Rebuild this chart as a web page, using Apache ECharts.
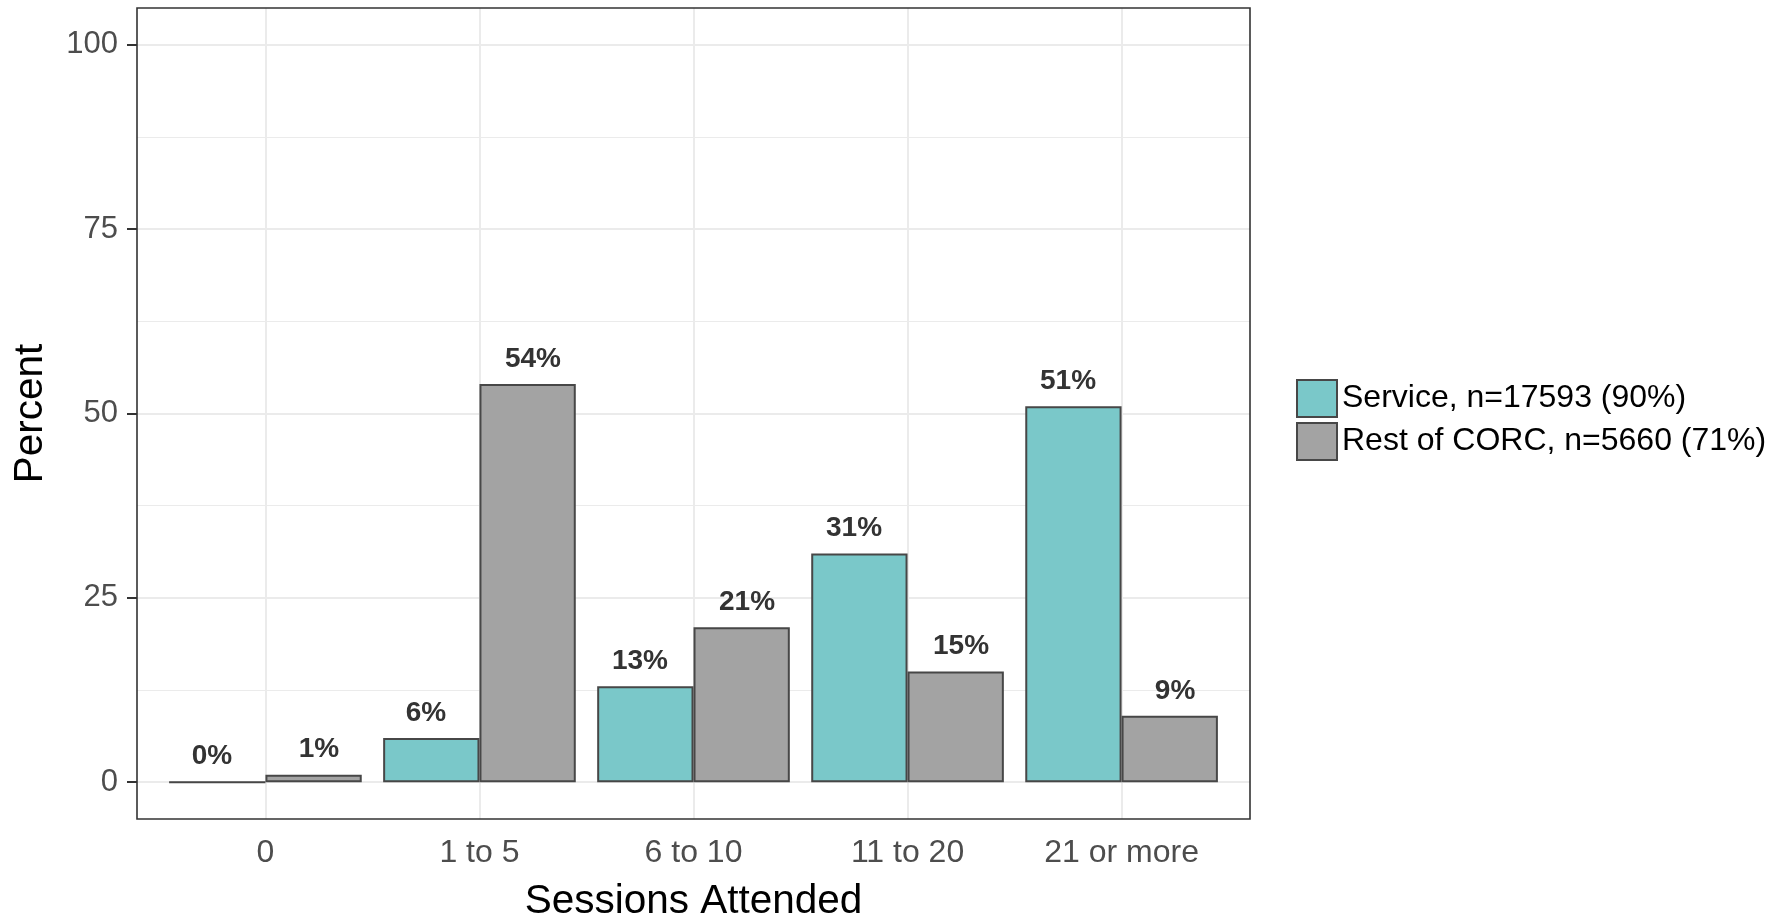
<!DOCTYPE html>
<html>
<head>
<meta charset="utf-8">
<script src="https://cdn.jsdelivr.net/npm/echarts@6/dist/echarts.min.js"></script>
<style>
  html, body { margin: 0; padding: 0; background: #fff; }
  #chart { width: 1790px; height: 917px; }
</style>
</head>
<body>
<div id="chart"></div>
<script>
// Sessions attended, percent of clients in each group
const categories = ['0', '1 to 5', '6 to 10', '11 to 20', '21 or more'];
const serviceValues = [0, 6, 13, 31, 51];
const restValues = [1, 54, 21, 15, 9];
const seriesNames = ['Service, n=17593 (90%)', 'Rest of CORC, n=5660 (71%)'];
const yRange = [0, 100];
const yMajorStep = 25;
const yMinorStep = 12.5;

// Panel geometry (pixels)
const panel = { left: 137, top: 8, right: 1250, bottom: 819 };
const panelW = panel.right - panel.left;
const panelH = panel.bottom - panel.top;

// Discrete x scale padded by 0.6 category on each side
const xUnit = panelW / (categories.length + 0.2);
const barLeft = panel.left + 0.1 * xUnit;
const barWidth = categories.length * xUnit;
// value labels are dodged a little wider (1.0) than the bars (0.9)
const labelShift = 0.025 * xUnit;

// Continuous y scale padded by 5% on each side
const ySpan = yRange[1] - yRange[0];
const yPad = ySpan * 0.05;
const yUnit = panelH / (ySpan + 2 * yPad);
const yTop = panel.top + yPad * yUnit;
const yHeight = ySpan * yUnit;

const FONT = '"Liberation Sans", Arial, Helvetica, sans-serif';
const fillService = '#7AC8C9';
const fillRest = '#A3A3A3';
const outline = '#474747';
const gridColor = '#EBEBEB';

const chart = echarts.init(document.getElementById('chart'), null, { renderer: 'canvas' });

function valueLabel(dx) {
  return {
    show: true,
    position: 'top',
    distance: 11,
    offset: [dx, 0],
    formatter: '{c}%',
    fontSize: 28,
    fontWeight: 'bold',
    color: '#333333',
    fontFamily: FONT
  };
}

chart.setOption({
  animation: false,
  textStyle: { fontFamily: FONT },
  grid: [
    { left: barLeft, top: panel.top, width: barWidth, height: panelH, outerBoundsMode: 'none' },
    { left: panel.left, top: yTop, width: panelW, height: yHeight, outerBoundsMode: 'none' },
    {
      left: panel.left, top: panel.top, width: panelW, height: panelH,
      outerBoundsMode: 'none',
      show: true, borderColor: '#333333', borderWidth: 1.6,
      backgroundColor: 'transparent', z: 3
    }
  ],
  legend: {
    orient: 'vertical',
    left: 1296,
    top: 379,
    padding: 0,
    itemWidth: 40,
    itemHeight: 37,
    itemGap: 4,
    icon: 'rect',
    selectedMode: false,
    itemStyle: { borderColor: outline, borderWidth: 2 },
    textStyle: { fontSize: 32, color: '#000000', fontFamily: FONT, padding: [8, 0, 0, 0] },
    data: seriesNames
  },
  xAxis: [
    {
      type: 'category',
      gridIndex: 0,
      data: categories,
      axisLine: { show: false },
      axisTick: { alignWithLabel: true, length: 10, lineStyle: { color: '#333333', width: 2 } },
      axisLabel: { margin: 18, fontSize: 32, color: '#4D4D4D', fontFamily: FONT },
      splitLine: { show: true, alignWithLabel: true, lineStyle: { color: gridColor, width: 2 } },
      name: 'Sessions Attended',
      nameLocation: 'middle',
      nameGap: 62,
      nameTextStyle: { fontSize: 40.5, color: '#000000', fontFamily: FONT }
    },
    { type: 'value', gridIndex: 1, show: false },
    { type: 'value', gridIndex: 2, show: false }
  ],
  yAxis: [
    { type: 'value', gridIndex: 0, min: yRange[0] - yPad, max: yRange[1] + yPad, show: false },
    {
      type: 'value',
      gridIndex: 1,
      min: yRange[0],
      max: yRange[1],
      interval: yMajorStep,
      axisLine: { show: false },
      axisTick: { show: true, length: 10, lineStyle: { color: '#333333', width: 2 } },
      axisLabel: { margin: 19, fontSize: 31, color: '#4D4D4D', fontFamily: FONT },
      splitLine: { show: true, lineStyle: { color: gridColor, width: 2 } },
      name: 'Percent',
      nameLocation: 'middle',
      nameGap: 86,
      nameTextStyle: { fontSize: 40.5, color: '#000000', fontFamily: FONT }
    },
    {
      type: 'value',
      gridIndex: 1,
      position: 'left',
      min: yRange[0],
      max: yRange[1],
      interval: yMinorStep,
      axisLine: { show: false },
      axisTick: { show: false },
      axisLabel: { show: false },
      splitLine: { show: true, lineStyle: { color: gridColor, width: 1.2 } }
    },
    { type: 'value', gridIndex: 2, show: false }
  ],
  series: [
    {
      name: seriesNames[0],
      type: 'bar',
      xAxisIndex: 0,
      yAxisIndex: 0,
      data: serviceValues,
      barGap: '0%',
      barCategoryGap: '10%',
      itemStyle: { color: fillService, borderColor: outline, borderWidth: 2 },
      label: valueLabel(-labelShift)
    },
    {
      name: seriesNames[1],
      type: 'bar',
      xAxisIndex: 0,
      yAxisIndex: 0,
      data: restValues,
      barGap: '0%',
      barCategoryGap: '10%',
      itemStyle: { color: fillRest, borderColor: outline, borderWidth: 2 },
      label: valueLabel(labelShift)
    }
  ]
});
</script>
</body>
</html>
